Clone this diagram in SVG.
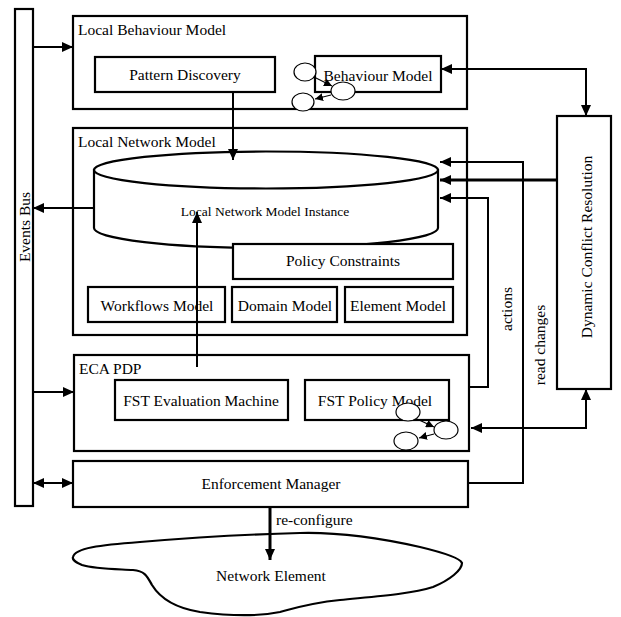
<svg xmlns="http://www.w3.org/2000/svg" width="621" height="617" viewBox="0 0 621 617">
<defs>
<style>
.box{fill:#fff;stroke:#000;stroke-width:2.2}
.t{font-family:"Liberation Serif","Times New Roman",serif;font-size:15.5px;fill:#000}
.c{text-anchor:middle}
.small{font-size:13.5px}
.ln{fill:none;stroke:#000;stroke-width:2}
.thick{stroke-width:3}
.el{fill:#fff;stroke:#000;stroke-width:1.2}
.thin{fill:none;stroke:#000;stroke-width:1.2}
</style>
<marker id="ah" markerUnits="userSpaceOnUse" markerWidth="12" markerHeight="10" refX="11" refY="5" orient="auto-start-reverse">
<path d="M0,0 L11,5 L0,10 Z" fill="#000"/>
</marker>
<marker id="ahs" markerUnits="userSpaceOnUse" markerWidth="9" markerHeight="8" refX="8" refY="4" orient="auto">
<path d="M0,0 L8,4 L0,8 Z" fill="#000"/>
</marker>
</defs>

<g id="events-bus">
<rect class="box" x="15" y="9" width="18" height="497"/>
<text class="t c" transform="translate(24,227) rotate(-90)" dominant-baseline="central">Events Bus</text>
</g>

<g id="local-behaviour-model">
<rect class="box" x="73" y="16" width="394" height="93"/>
<text class="t" x="78" y="35">Local Behaviour Model</text>
</g>
<g id="pattern-discovery">
<rect class="box" x="95" y="57" width="180" height="35"/>
<text class="t c" x="185" y="80">Pattern Discovery</text>
</g>
<g id="behaviour-model">
<rect class="box" x="315" y="56" width="126" height="36"/>
<text class="t c" x="378" y="81">Behaviour Model</text>
<ellipse class="el" cx="305" cy="72" rx="11" ry="9"/>
<ellipse class="el" cx="343" cy="91" rx="12" ry="9"/>
<ellipse class="el" cx="303" cy="102" rx="11" ry="9"/>
<path class="thin" d="M314,77 L332,86" marker-end="url(#ahs)"/>
<path class="thin" d="M331,95 L315,99" marker-end="url(#ahs)"/>
</g>

<g id="local-network-model">
<rect class="box" x="73" y="128" width="394" height="207"/>
<text class="t" x="78" y="147">Local Network Model</text>
</g>
<g id="local-network-model-instance">
<path class="box" d="M94,170 L94,228 A172,20 0 0 0 438,228 L438,170 Z"/>
<ellipse class="box" cx="266" cy="170" rx="172" ry="18.5"/>
<text class="t c small" x="265" y="216">Local Network Model Instance</text>
</g>
<g id="policy-constraints">
<rect class="box" x="233" y="244" width="220" height="35"/>
<text class="t c" x="343" y="266">Policy Constraints</text>
</g>
<g id="workflows-model">
<rect class="box" x="88" y="287" width="137" height="35"/>
<text class="t c" x="157" y="311">Workflows Model</text>
</g>
<g id="domain-model">
<rect class="box" x="232" y="287" width="105" height="35"/>
<text class="t c" x="285" y="311">Domain Model</text>
</g>
<g id="element-model">
<rect class="box" x="345" y="287" width="108" height="35"/>
<text class="t c" x="398" y="311">Element Model</text>
</g>

<g id="eca-pdp">
<rect class="box" x="74" y="355" width="395" height="96"/>
<text class="t" x="79" y="374">ECA PDP</text>
</g>
<g id="fst-evaluation-machine">
<rect class="box" x="115" y="380" width="173" height="40"/>
<text class="t c" x="201" y="406">FST Evaluation Machine</text>
</g>
<g id="fst-policy-model">
<rect class="box" x="305" y="380" width="144" height="40"/>
<text class="t c" x="375" y="406">FST Policy Model</text>
<ellipse class="el" cx="408" cy="412" rx="12" ry="9"/>
<ellipse class="el" cx="446" cy="430" rx="12" ry="9"/>
<ellipse class="el" cx="406" cy="441" rx="12" ry="9"/>
<path class="thin" d="M417,419 L434,427" marker-end="url(#ahs)"/>
<path class="thin" d="M434,434 L419,438" marker-end="url(#ahs)"/>
</g>

<g id="enforcement-manager">
<rect class="box" x="73" y="461" width="395" height="46"/>
<text class="t c" x="271" y="489">Enforcement Manager</text>
</g>

<g id="dynamic-conflict-resolution">
<rect class="box" x="557" y="116" width="54" height="273"/>
<text class="t c" transform="translate(586,247) rotate(-90)" dominant-baseline="central">Dynamic Conflict Resolution</text>
</g>

<g id="network-element">
<path class="box" d="M73,557 C75,548 100,545 140,542 C200,537 260,534 300,533 C340,532 380,538 420,547 C445,553 460,558 462,563 C462,570 450,580 433,587 C410,594 380,596 340,600 C310,603 295,608 280,612 C260,616 230,616 200,612 C175,608 160,598 152,585 C147,576 145,571 133,570 C115,569 95,569 82,565 C75,562 72,560 73,557 Z"/>
<text class="t c" x="271" y="581">Network Element</text>
</g>

<g id="connectors">
<path class="ln" d="M33,47 L73,47" marker-end="url(#ah)"/>
<path class="ln" d="M94,208 L33,208" marker-end="url(#ah)"/>
<path class="ln" d="M33,392 L74,392" marker-end="url(#ah)"/>
<path class="ln" d="M33,483 L73,483" marker-start="url(#ah)" marker-end="url(#ah)"/>
<path class="ln" d="M233,92 L233,160" marker-end="url(#ah)"/>
<path class="ln" d="M197,367 L197,212" marker-end="url(#ah)"/>
<path class="ln" d="M441,69 L586,69 L586,116" marker-start="url(#ah)" marker-end="url(#ah)"/>
<path class="ln" d="M468,483 L523,483 L523,162 L440,162" marker-end="url(#ah)"/>
<path class="ln thick" d="M557,180 L440,180" marker-end="url(#ah)"/>
<path class="ln" d="M469,387 L488,387 L488,198 L440,198" marker-end="url(#ah)"/>
<path class="ln" d="M586,389 L586,428 L471,428" marker-start="url(#ah)" marker-end="url(#ah)"/>
<path class="ln thick" d="M270,507 L270,560" marker-end="url(#ah)"/>
<text class="t c" transform="translate(506,309) rotate(-90)" dominant-baseline="central">actions</text>
<text class="t c" transform="translate(539,345) rotate(-90)" dominant-baseline="central">read changes</text>
<text class="t" x="276" y="525">re-configure</text>
</g>
</svg>
